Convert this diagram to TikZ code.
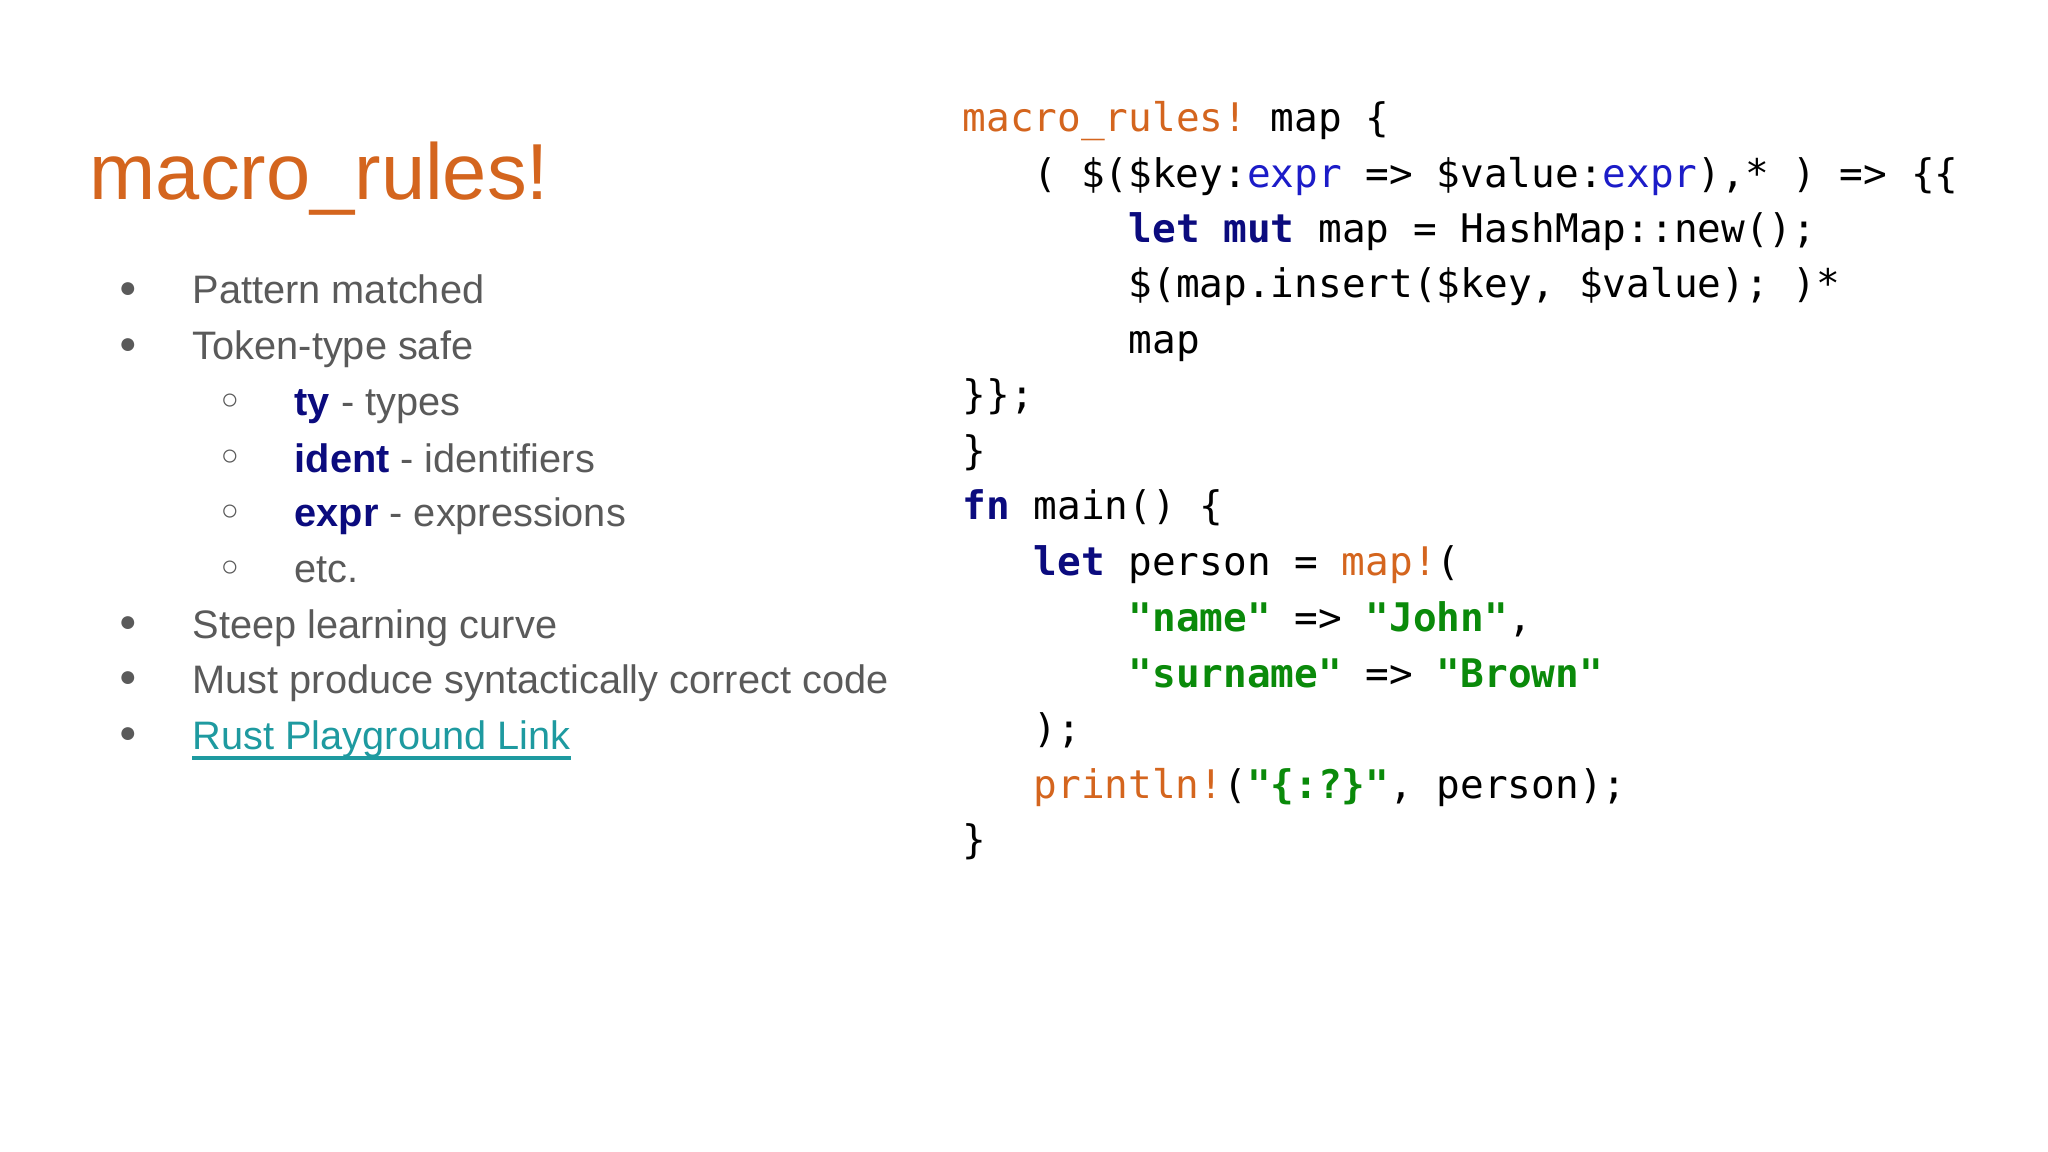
\documentclass[tikz,border=0pt]{standalone}
\usepackage{fontspec}
\setmainfont{Liberation Sans}
\setmonofont{DejaVu Sans Mono}
\definecolor{orng}{HTML}{D4651E}
\definecolor{navy}{HTML}{0B0B7E}
\definecolor{exb}{HTML}{1C1CC8}
\definecolor{grn}{HTML}{0A8A0A}
\definecolor{txt}{HTML}{5A5A5A}
\definecolor{lnk}{HTML}{1E9AA0}
\newcommand{\kw}[1]{\textcolor{navy}{\bfseries #1}}
\newcommand{\mc}[1]{\textcolor{orng}{#1}}
\newcommand{\ex}[1]{\textcolor{exb}{#1}}
\newcommand{\st}[1]{\textcolor{grn}{\bfseries #1}}
\begin{document}
\begin{tikzpicture}[x=0.01cm,y=-0.01cm,
  bul/.style={anchor=base west,text=txt,font=\fontsize{11.3pt}{13pt}\selectfont,inner sep=0},
  dot/.style={anchor=center,text=txt,font=\fontsize{8.5pt}{10pt}\selectfont,inner sep=0},
  code/.style={anchor=base west,font=\ttfamily\fontsize{11.2pt}{13pt}\selectfont,inner sep=0}]
\useasboundingbox[fill=white] (0,0) rectangle (2048,1152);
\node[anchor=base west,inner sep=0,text=orng,font=\fontsize{22.6pt}{26pt}\selectfont] (title) at (89,200) {macro\_rules!};
% bullets
\foreach \y/\n in {290/a,346/b,624/c,679/d,735/e}{\node[dot] (d\n) at (128,\y) {●};}
\foreach \y/\n in {402/a,458/b,513/c,569/d}{\node[dot] (s\n) at (230,\y) {○};}
\node[bul] (t1) at (192,304) {Pattern matched};
\node[bul] (t2) at (192,360) {Token-type safe};
\node[bul] (t3) at (294,416) {\kw{ty} - types};
\node[bul] (t4) at (294,472) {\kw{ident} - identifiers};
\node[bul] (t5) at (294,527) {\kw{expr} - expressions};
\node[bul] (t6) at (294,583) {etc.};
\node[bul] (t7) at (192,638) {Steep learning curve};
\node[bul] (t8) at (192,693) {Must produce syntactically correct code};
\node[bul,text=lnk] (t9) at (192,749) {Rust Playground Link};
\draw[lnk,line width=1.2pt] ([yshift=-2.5pt]t9.base west) -- ([yshift=-2.5pt]t9.base east);
% code
\def\cx{962}
\node[code] (c1) at (\cx,132) {\mc{macro\_rules!} map \{};
\node[code] (c2) at (\cx+71,188) {( \$(\$key:\ex{expr} => \$value:\ex{expr}),* ) => \{\{};
\node[code] (c3) at (\cx+166,243) {\kw{let} \kw{mut} map = HashMap::new();};
\node[code] (c4) at (\cx+166,298) {\$(map.insert(\$key, \$value); )*};
\node[code] (c5) at (\cx+166,354) {map};
\node[code] (c6) at (\cx,409) {\}\};};
\node[code] (c7) at (\cx,465) {\}};
\node[code] (c8) at (\cx,520) {\kw{fn} main() \{};
\node[code] (c9) at (\cx+71,576) {\kw{let} person = \mc{map!}(};
\node[code] (c10) at (\cx+166,631) {\st{"name"} => \st{"John"},};
\node[code] (c11) at (\cx+166,687) {\st{"surname"} => \st{"Brown"}};
\node[code] (c12) at (\cx+71,742) {);};
\node[code] (c13) at (\cx+71,798) {\mc{println!}(\st{"\{:?\}"}, person);};
\node[code] (c14) at (\cx,853) {\}};
\end{tikzpicture}
\end{document}
